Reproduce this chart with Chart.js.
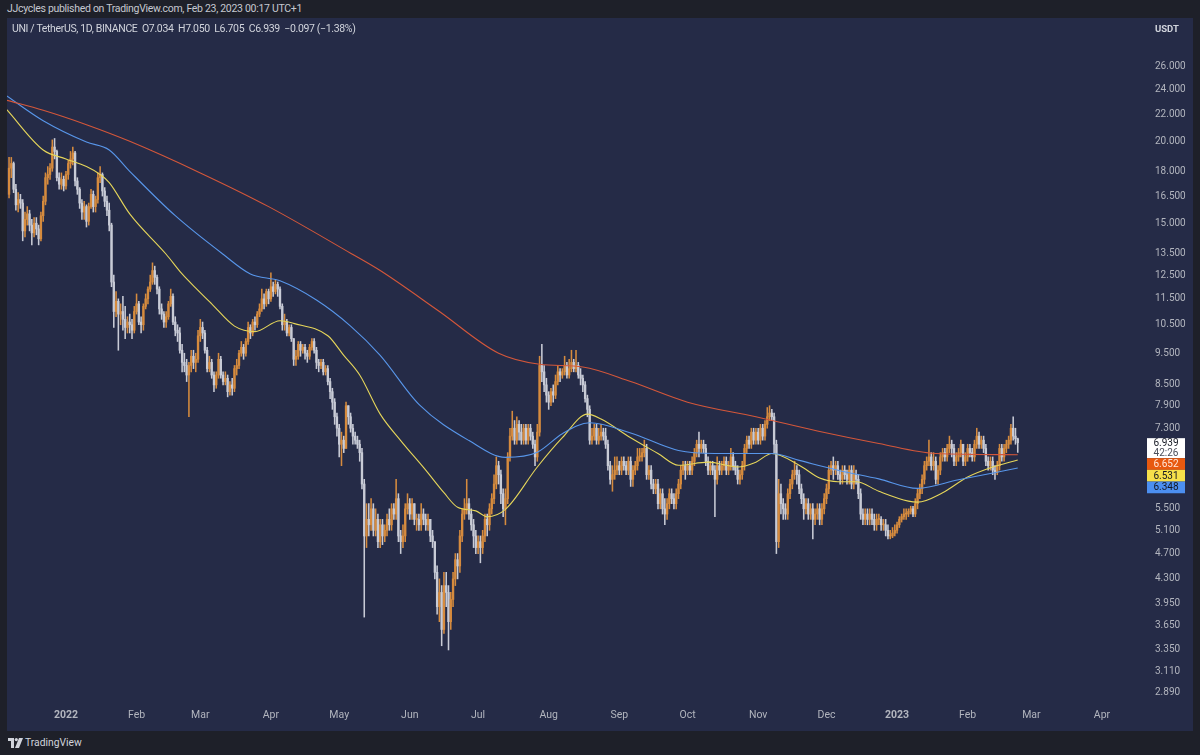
<!DOCTYPE html>
<html>
<head>
<meta charset="utf-8">
<script src="https://cdn.jsdelivr.net/npm/chart.js@4.4.1/dist/chart.umd.min.js"></script>
<style>
html, body { margin:0; padding:0; width:1200px; height:755px; overflow:hidden; background:#1e2029;
  font-family: Roboto, "Noto Sans", sans-serif; }
#frame { position:absolute; left:7px; top:18px; width:1186px; height:713px; background:#252b47; }
.txt { position:absolute; white-space:pre; line-height:14px; }
</style>
</head>
<body>
<div id="frame"><canvas id="chart"></canvas></div>
<div class="txt" style="left:7px;top:2px;font-size:10.5px;letter-spacing:-0.3px;color:#c5c8d0">JJcycles published on TradingView.com, Feb 23, 2023 00:17 UTC+1</div>
<div class="txt" style="left:12px;top:22px;font-size:10.5px;letter-spacing:-0.35px;color:#d1d4dc">UNI / TetherUS, 1D, BINANCE  O7.034  H7.050  L6.705  C6.939  −0.097 (−1.38%)</div>
<div class="txt" style="left:1155px;top:22px;font-size:9.5px;font-weight:bold;color:#d1d4dc">USDT</div>
<svg style="position:absolute;left:8px;top:738px" width="15" height="10" viewBox="0 0 15 10">
  <path d="M0 0H6V10H3V3H0Z" fill="#d1d4dc"/>
  <circle cx="8.3" cy="1.6" r="1.6" fill="#d1d4dc"/>
  <path d="M11 0H15L11 10H7Z" fill="#d1d4dc"/>
</svg>
<div class="txt" style="left:25px;top:736px;font-size:10.3px;color:#d1d4dc">TradingView</div>
<script>
// UNI / USDT daily candles, Dec 7 2021 .. Feb 23 2023 (open = previous close)
var firstDay = -25;      // days relative to Jan 1 2022
var firstOpen = 16.6;

var closeDec21 = [18.2,18.5,16.9,16.0,16.3,16.1,14.6,15.2,15.5,14.9,14.5,15.0,14.7,14.2,15.4,16.2,17.6,17.8,18.2,19.6,19.3,17.6,17.2,17.5,17.1];
var highDec21  = [18.9,18.9,18.6,17.2,16.7,16.6,16.3,15.6,15.9,15.7,15.2,15.3,15.3,14.9,15.6,16.5,17.9,18.3,18.5,20.1,20.2,19.4,17.9,17.9,17.7];
var lowDec21   = [16.4,17.6,16.7,15.7,15.6,15.8,14.1,14.3,14.9,14.6,13.9,14.3,14.4,13.9,14.1,15.1,16.0,17.2,17.5,18.0,18.8,17.4,16.9,16.9,16.8];

var closeJan22 = [17.8,18.5,18.8,19.2,17.4,16.9,16.1,15.6,15.9,15.1,15.9,16.6,15.9,16.3,17.6,17.8,16.8,16.2,15.7,14.9,12.2,11.0,11.4,10.9,11.0,10.7,10.4,10.6,10.5,10.3,11.0];
var highJan22  = [18.0,18.7,19.3,19.6,19.3,17.6,17.0,16.3,16.2,16.0,16.1,16.9,16.8,16.5,17.9,18.3,17.9,17.0,16.5,16.1,15.0,12.5,11.8,11.5,11.3,11.6,11.2,10.8,10.9,10.7,11.2];
var lowJan22   = [16.9,17.5,18.2,18.4,17.1,16.6,15.8,15.2,15.2,14.8,14.9,15.8,15.6,15.6,16.1,17.3,16.5,15.9,15.4,14.6,12.0,10.4,10.8,9.6,10.5,10.3,10.0,10.2,10.2,10.0,10.2];

var closeFeb22 = [11.3,10.6,10.5,11.2,11.5,11.9,12.2,12.7,12.4,11.9,11.1,10.9,10.6,10.8,11.3,11.6,10.6,10.3,10.2,9.6,9.2,9.1,8.8,9.1,9.4,9.2,9.3,10.1];
var highFeb22  = [11.7,11.4,10.8,11.3,11.7,12.0,12.5,13.05,12.9,12.5,12.0,11.3,11.0,11.0,11.4,11.9,11.7,10.8,10.5,10.4,9.8,9.5,9.3,9.2,9.6,9.6,9.5,10.3];
var lowFeb22   = [10.9,10.5,10.2,10.3,11.1,11.3,11.8,12.1,12.1,11.7,10.9,10.7,10.4,10.4,10.7,11.2,10.5,10.1,9.9,9.5,8.9,8.9,8.6,7.6,8.9,9.0,8.9,9.2];

var closeMar22 = [10.4,10.2,9.6,9.0,9.2,8.8,8.5,8.8,9.3,8.8,8.6,8.7,8.3,8.5,8.4,9.0,9.1,9.5,9.7,9.5,9.9,10.4,10.2,10.6,10.5,10.9,11.1,11.5,11.3,11.8,11.5];
var highMar22  = [10.7,10.6,10.3,9.7,9.4,9.3,8.9,8.9,9.5,9.4,8.9,8.9,8.8,8.6,8.7,9.1,9.3,9.6,9.9,9.8,10.0,10.6,10.5,10.7,10.8,11.0,11.3,11.9,11.7,11.9,11.9];
var lowMar22   = [9.9,10.0,9.5,8.9,8.9,8.7,8.3,8.4,8.7,8.7,8.5,8.5,8.15,8.2,8.2,8.3,8.8,9.0,9.4,9.3,9.4,9.8,10.0,10.1,10.3,10.4,10.8,11.0,11.1,11.2,11.3];

var closeApr22 = [12.0,11.8,12.1,11.9,11.2,10.5,10.6,10.2,10.4,10.0,9.3,9.4,9.8,9.6,9.7,9.5,9.4,9.7,9.9,9.6,9.2,9.1,9.2,8.9,9.0,8.6,8.3,8.0,7.6,7.3];
var highApr22  = [12.6,12.2,12.3,12.2,12.0,11.3,10.9,10.7,10.5,10.5,10.0,9.6,9.9,9.9,9.8,9.8,9.6,9.8,10.0,10.0,9.7,9.3,9.3,9.3,9.1,9.1,8.7,8.4,8.1,7.7];
var lowApr22   = [11.4,11.6,11.7,11.6,11.1,10.3,10.3,10.1,10.1,9.9,9.1,9.1,9.3,9.4,9.5,9.3,9.2,9.3,9.6,9.5,9.0,8.9,9.0,8.8,8.8,8.5,8.1,7.8,7.4,7.1];

var closeMay22 = [6.9,7.0,6.8,7.9,7.6,7.3,7.1,7.0,6.9,6.7,6.0,5.0,5.3,5.2,5.5,5.1,5.3,4.9,5.2,5.0,5.1,5.3,5.2,5.5,5.4,5.7,5.0,4.9,5.0,5.5,5.6];
var highMay22  = [7.4,7.2,7.1,8.0,7.9,7.7,7.4,7.2,7.1,7.0,6.8,6.1,5.6,5.6,5.7,5.6,5.5,5.4,5.3,5.3,5.2,5.4,5.5,5.6,5.6,6.1,5.8,5.1,5.2,5.6,5.8];
var lowMay22   = [6.6,6.4,6.7,6.8,7.4,7.2,6.9,6.9,6.8,6.5,5.9,3.76,4.8,5.0,5.1,5.0,5.0,4.8,4.8,4.85,4.9,5.0,5.1,5.1,5.3,5.3,4.9,4.7,4.8,4.9,5.4];

var closeJun22 = [5.4,5.6,5.3,5.3,5.2,5.4,5.3,5.2,5.3,5.0,4.9,4.4,3.9,4.1,3.6,4.2,4.1,3.7,4.0,4.3,4.6,4.5,5.0,5.4,5.5,5.6,5.4,5.2,5.0,4.8];
var highJun22  = [5.7,5.7,5.6,5.4,5.4,5.6,5.5,5.4,5.4,5.3,5.1,4.9,4.5,4.3,4.2,4.4,4.4,4.2,4.1,4.4,4.7,4.7,5.1,5.5,5.7,6.1,5.7,5.5,5.3,5.1];
var lowJun22   = [5.3,5.3,5.2,5.1,5.1,5.1,5.2,5.1,5.1,4.9,4.8,4.3,3.8,3.7,3.4,3.55,3.9,3.35,3.6,3.9,4.2,4.3,4.4,4.9,5.3,5.4,5.3,5.1,4.8,4.7];

var closeJul22 = [4.9,4.8,5.0,5.3,5.2,5.5,5.7,6.0,6.4,6.2,5.8,5.5,5.7,6.6,7.1,7.3,7.0,7.4,7.2,7.0,7.3,7.0,7.3,7.1,6.9,6.6,7.2,9.1,8.9,8.5,8.2];
var highJul22  = [5.0,5.0,5.1,5.4,5.4,5.6,5.8,6.2,6.6,6.5,6.3,5.9,5.9,6.7,7.3,7.75,7.5,7.6,7.5,7.4,7.4,7.4,7.4,7.4,7.2,7.0,7.4,9.4,9.8,9.1,8.7];
var lowJul22   = [4.7,4.55,4.7,4.9,5.0,5.1,5.4,5.6,5.9,6.0,5.6,5.35,5.2,5.6,6.5,7.0,6.9,6.9,7.0,6.9,6.9,6.9,6.9,7.0,6.8,6.4,6.5,7.1,8.6,8.3,8.0];

var closeAug22 = [8.0,8.3,8.2,8.6,8.9,8.8,8.9,9.1,8.8,9.0,9.2,9.0,9.1,8.8,8.7,8.5,8.1,7.8,7.0,7.1,7.3,7.0,7.1,7.2,7.1,6.9,6.4,6.1,6.2,6.3,6.4];
var highAug22  = [8.3,8.4,8.5,8.8,9.1,9.0,9.0,9.4,9.2,9.3,9.6,9.3,9.6,9.2,9.0,8.8,8.6,8.2,7.9,7.3,7.4,7.4,7.3,7.4,7.3,7.3,7.0,6.5,6.4,6.6,6.6];
var lowAug22   = [7.8,7.9,8.0,8.1,8.5,8.6,8.7,8.8,8.7,8.7,8.9,8.9,8.9,8.7,8.5,8.3,8.0,7.6,6.9,6.9,7.0,6.9,6.9,7.0,7.0,6.8,6.3,6.0,5.85,6.1,6.2];

var closeSep22 = [6.3,6.5,6.4,6.3,6.5,6.1,6.3,6.4,6.6,6.6,6.7,6.8,6.2,6.3,6.0,5.9,6.0,5.6,5.8,5.5,5.4,5.6,5.8,5.7,5.6,5.8,6.0,6.3,6.4,6.3];
var highSep22  = [6.5,6.6,6.6,6.5,6.6,6.6,6.4,6.5,6.8,6.8,6.8,7.0,6.9,6.4,6.4,6.1,6.1,6.1,5.9,5.9,5.7,5.7,5.9,5.9,5.8,5.9,6.1,6.4,6.5,6.5];
var lowSep22   = [6.2,6.2,6.3,6.2,6.2,5.95,5.95,6.2,6.3,6.5,6.5,6.6,6.1,6.1,5.9,5.8,5.8,5.5,5.5,5.4,5.2,5.3,5.5,5.6,5.5,5.5,5.7,5.9,6.2,6.1];

var closeOct22 = [6.4,6.3,6.5,6.7,6.9,6.8,6.9,6.8,6.5,6.3,6.4,6.3,6.1,6.4,6.3,6.4,6.5,6.3,6.4,6.6,6.4,6.3,6.1,6.2,6.4,6.8,7.0,6.9,7.2,7.0,7.2];
var highOct22  = [6.5,6.5,6.6,6.8,7.0,7.2,7.0,7.0,6.9,6.6,6.5,6.5,6.4,6.6,6.5,6.5,6.6,6.6,6.5,6.8,6.7,6.5,6.4,6.3,6.5,6.9,7.1,7.1,7.3,7.3,7.3];
var lowOct22   = [6.2,6.2,6.2,6.4,6.6,6.6,6.7,6.7,6.4,6.2,6.2,6.2,5.35,6.0,6.2,6.2,6.3,6.2,6.2,6.3,6.3,6.2,6.0,6.0,6.1,6.3,6.7,6.8,6.8,6.9,6.9];

var closeNov22 = [7.0,7.3,7.1,7.4,7.6,7.7,7.6,6.9,4.9,5.8,5.6,5.5,5.4,5.8,6.0,6.2,6.3,6.2,5.9,5.7,5.5,5.6,5.4,5.5,5.3,5.4,5.5,5.3,5.5,5.7];
var highNov22  = [7.3,7.4,7.4,7.5,7.85,7.9,7.8,7.7,7.0,6.1,6.0,5.7,5.6,5.9,6.1,6.3,6.5,6.4,6.3,6.0,5.8,5.7,5.7,5.6,5.6,5.5,5.6,5.6,5.6,5.8];
var lowNov22   = [6.9,6.9,7.0,7.0,7.3,7.5,7.5,6.7,4.7,4.8,5.4,5.3,5.3,5.3,5.7,5.9,6.1,6.0,5.8,5.6,5.3,5.4,5.3,5.3,4.95,5.2,5.3,5.2,5.2,5.4];

var closeDec22 = [5.9,6.3,6.4,6.3,6.4,6.2,6.1,6.3,6.2,6.1,6.3,6.0,6.2,6.1,5.8,5.4,5.3,5.4,5.3,5.4,5.3,5.2,5.3,5.3,5.2,5.2,5.1,5.0,5.0,5.05,5.1];
var highDec22  = [6.0,6.4,6.5,6.6,6.5,6.5,6.3,6.4,6.4,6.3,6.4,6.4,6.4,6.3,6.2,5.9,5.5,5.5,5.5,5.5,5.5,5.4,5.4,5.4,5.35,5.3,5.3,5.2,5.1,5.15,5.2];
var lowDec22   = [5.6,5.8,6.2,6.1,6.2,6.1,6.0,6.0,6.1,6.0,6.0,5.9,5.9,6.0,5.7,5.3,5.2,5.2,5.2,5.2,5.2,5.1,5.1,5.2,5.1,5.1,5.0,4.95,4.95,4.97,5.0];

var closeJan23 = [5.2,5.3,5.35,5.4,5.4,5.45,5.5,5.4,5.6,5.8,5.9,6.1,6.4,6.5,6.6,6.4,6.5,6.1,6.3,6.6,6.7,6.6,6.8,6.9,6.8,6.5,6.6,6.7,6.9,6.5,6.6];
var highJan23  = [5.25,5.35,5.4,5.5,5.5,5.5,5.55,5.55,5.7,5.9,6.0,6.2,6.5,6.6,7.0,6.7,6.7,6.6,6.4,6.7,6.8,6.8,6.9,7.1,7.0,6.9,6.7,6.8,7.0,6.9,6.7];
var lowJan23   = [5.05,5.15,5.25,5.3,5.3,5.35,5.4,5.35,5.35,5.5,5.7,5.8,6.0,6.3,6.4,6.3,6.3,6.0,6.0,6.2,6.5,6.5,6.5,6.7,6.6,6.4,6.4,6.5,6.6,6.4,6.4];

var closeFeb23 = [6.8,6.7,6.6,6.9,7.1,6.9,7.0,6.8,6.5,6.4,6.5,6.3,6.25,6.4,6.8,6.6,6.8,6.9,7.0,7.3,7.1,7.034,6.939];
var highFeb23  = [6.9,6.9,6.8,7.0,7.3,7.2,7.1,7.1,6.9,6.6,6.6,6.6,6.4,6.5,6.9,6.9,6.9,7.0,7.1,7.4,7.6,7.3,7.05];
var lowFeb23   = [6.5,6.6,6.5,6.5,6.8,6.8,6.8,6.7,6.4,6.3,6.3,6.2,6.1,6.2,6.3,6.5,6.5,6.7,6.8,6.9,7.0,6.9,6.705];

// moving averages (day, value)
var maRedDays      = [-26,-10,9,28,59,89,125,138,164,190,208,227,248,273,303,330,357,382,418];
var maRedValues    = [23.1,22.3,21.2,20.0,17.9,15.9,13.5,12.7,11.0,9.5,9.14,9.05,8.6,8.0,7.6,7.23,6.92,6.68,6.652];
var maBlueDays     = [-26,-10,9,19,28,48,69,81,94,110,125,138,155,177,193,207,218,230,248,269,285,310,322,339,357,374,392,418];
var maBlueValues   = [23.45,21.5,19.95,19.4,18.0,15.4,13.45,12.55,12.25,11.45,10.45,9.43,7.94,6.99,6.59,6.71,7.16,7.44,7.18,6.75,6.68,6.68,6.52,6.30,6.11,5.91,6.09,6.348];
var maYellowDays   = [-26,-10,0,9,15,19,28,44,51,58,64,74,83,94,100,115,122,129,138,147,158,166,172,180,185,193,207,218,229,235,248,260,269,282,295,303,310,322,331,339,347,357,370,374,385,396,407,418];
var maYellowValues = [22.35,19.4,18.8,18.3,17.8,17.3,15.5,13.45,12.55,11.85,11.3,10.45,10.25,10.65,10.55,10.1,9.43,8.8,7.67,6.99,6.3,5.82,5.53,5.46,5.35,5.49,6.37,7.06,7.67,7.54,7.06,6.68,6.41,6.48,6.37,6.48,6.68,6.41,6.13,6.05,6.05,5.85,5.65,5.63,5.82,6.15,6.37,6.531];

// axis ticks
var monthTickDays   = [0,31,59,90,120,151,181,212,243,273,304,334,365,396,424,455];
var monthTickLabels = ['2022','Feb','Mar','Apr','May','Jun','Jul','Aug','Sep','Oct','Nov','Dec','2023','Feb','Mar','Apr'];
var priceTicks = [26,24,22,20,18,16.5,15,13.5,12.5,11.5,10.5,9.5,8.5,7.9,7.3,5.5,5.1,4.7,4.3,3.95,3.65,3.35,3.11,2.89];
var countdown = '42:26';

var closes = [].concat(closeDec21, closeJan22, closeFeb22, closeMar22, closeApr22, closeMay22, closeJun22,
  closeJul22, closeAug22, closeSep22, closeOct22, closeNov22, closeDec22, closeJan23, closeFeb23);
var highs = [].concat(highDec21, highJan22, highFeb22, highMar22, highApr22, highMay22, highJun22,
  highJul22, highAug22, highSep22, highOct22, highNov22, highDec22, highJan23, highFeb23);
var lows = [].concat(lowDec21, lowJan22, lowFeb22, lowMar22, lowApr22, lowMay22, lowJun22,
  lowJul22, lowAug22, lowSep22, lowOct22, lowNov22, lowDec22, lowJan23, lowFeb23);
var opens = [firstOpen].concat(closes.slice(0, -1));

var upColor = '#d68b3e';
var downColor = '#c8cbd6';
var redColor = '#d4573a';
var blueColor = '#5896ea';
var yellowColor = '#e6d65a';
var fontFamily = 'Roboto, "Noto Sans", sans-serif';

var bodies = [], wicks = [], candleColors = [];
for (var i = 0; i < closes.length; i++) {
    var d = firstDay + i;
    bodies.push({x: d, y: [opens[i], closes[i]]});
    wicks.push({x: d, y: [lows[i], highs[i]]});
    candleColors.push(closes[i] >= opens[i] ? upColor : downColor);
}

function maPoints(days, values) {
    return days.map(function(d, k) { return {x: d, y: values[k]}; });
}

// last price and MA value boxes on the price axis
var priceLabels = {
    id: 'priceLabels',
    afterDraw: function(chart) {
        var ctx = chart.ctx;
        var y = chart.scales.y;
        var x0 = 1140, w = 38;
        var last = closes[closes.length - 1];
        var top = y.getPixelForValue(last) - 4.5;
        ctx.save();
        ctx.font = '10px ' + fontFamily;
        ctx.textAlign = 'center';
        ctx.textBaseline = 'middle';
        ctx.fillStyle = '#ffffff';
        ctx.fillRect(x0, top, w, 20);
        ctx.fillStyle = '#131722';
        ctx.fillText(last.toFixed(3), x0 + w / 2, top + 5.3);
        ctx.fillStyle = '#4a4e5a';
        ctx.fillText(countdown, x0 + w / 2, top + 15);
        top += 20;
        var boxes = [
            [maRedValues[maRedValues.length - 1], '#e8590f', '#ffe8dc'],
            [maYellowValues[maYellowValues.length - 1], '#f6e04a', '#131722'],
            [maBlueValues[maBlueValues.length - 1], '#4c8ff0', '#131722']
        ];
        boxes.forEach(function(b) {
            ctx.fillStyle = b[1];
            ctx.fillRect(x0, top, w, 11.7);
            ctx.fillStyle = b[2];
            ctx.fillText(b[0].toFixed(3), x0 + w / 2, top + 6.2);
            top += 11.7;
        });
        ctx.restore();
    }
};

new Chart(document.getElementById('chart'), {
    type: 'bar',
    data: {
        datasets: [
            { type: 'line', data: maPoints(maRedDays, maRedValues), borderColor: redColor, borderWidth: 1.1,
              pointRadius: 0, cubicInterpolationMode: 'monotone', order: 1 },
            { type: 'line', data: maPoints(maBlueDays, maBlueValues), borderColor: blueColor, borderWidth: 1.1,
              pointRadius: 0, cubicInterpolationMode: 'monotone', order: 1 },
            { type: 'line', data: maPoints(maYellowDays, maYellowValues), borderColor: yellowColor, borderWidth: 1.1,
              pointRadius: 0, cubicInterpolationMode: 'monotone', order: 1 },
            { data: wicks, backgroundColor: candleColors, barThickness: 0.9, grouped: false, order: 3 },
            { data: bodies, backgroundColor: candleColors, barThickness: 1.7, grouped: false, minBarLength: 1, order: 2 }
        ]
    },
    options: {
        responsive: true,
        maintainAspectRatio: false,
        animation: false,
        events: [],
        layout: { padding: { top: 22, left: 0, right: 0, bottom: 0 } },
        plugins: { legend: { display: false }, tooltip: { enabled: false } },
        scales: {
            x: {
                type: 'linear',
                min: -25.9,
                max: 467.3,
                offset: false,
                bounds: 'data',
                grid: { display: false, drawTicks: false },
                border: { display: false },
                afterBuildTicks: function(scale) {
                    scale.ticks = monthTickDays.map(function(v) { return {value: v}; });
                },
                afterFit: function(scale) { scale.height = 26; },
                ticks: {
                    autoSkip: false,
                    maxRotation: 0,
                    padding: 9,
                    color: '#b2b5be',
                    font: function(c) {
                        var lbl = c.tick ? monthTickLabels[monthTickDays.indexOf(c.tick.value)] : '';
                        return { family: fontFamily, size: 10.5,
                                 weight: /^\d+$/.test(lbl) ? 'bold' : 'normal' };
                    },
                    callback: function(v) { return monthTickLabels[monthTickDays.indexOf(v)]; }
                }
            },
            y: {
                type: 'logarithmic',
                position: 'right',
                min: 2.81,
                max: 27.66,
                bounds: 'data',
                grid: { display: false, drawTicks: false },
                border: { display: false },
                afterBuildTicks: function(scale) {
                    scale.ticks = priceTicks.map(function(v) { return {value: v}; });
                },
                afterFit: function(scale) { scale.width = 63; },
                ticks: {
                    autoSkip: false,
                    padding: 25,
                    color: '#b2b5be',
                    font: { family: fontFamily, size: 10 },
                    callback: function(v) { return Number(v).toFixed(3); }
                }
            }
        }
    },
    plugins: [priceLabels]
});
</script>
</body>
</html>
